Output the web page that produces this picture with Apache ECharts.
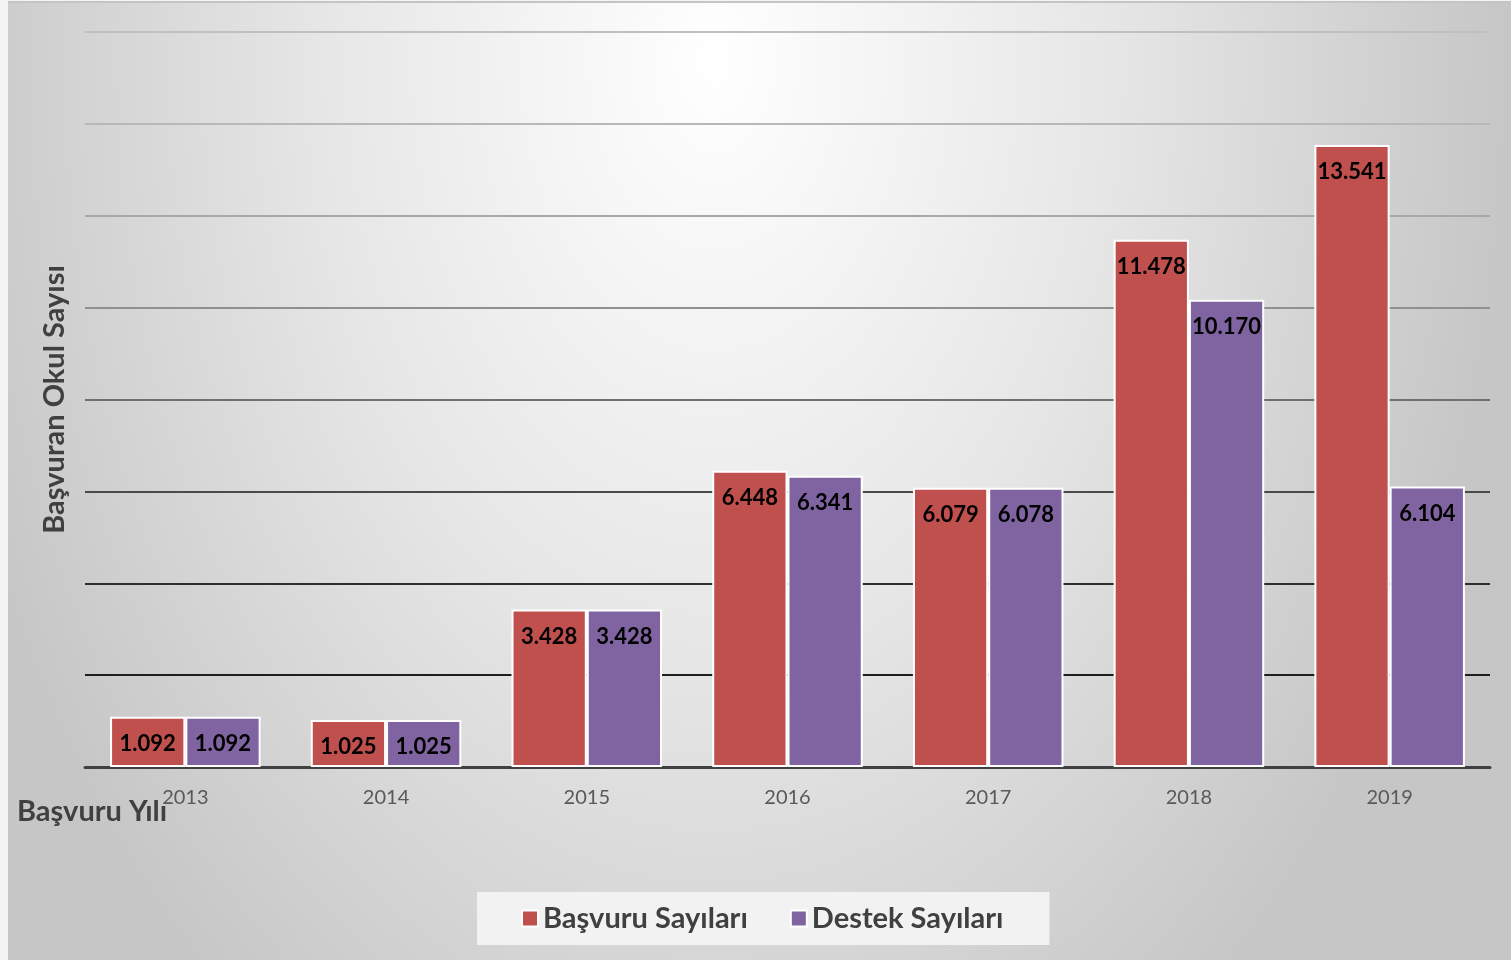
<!DOCTYPE html>
<html>
<head>
<meta charset="utf-8">
<title>Başvuru ve Destek Sayıları</title>
<script src="https://cdn.jsdelivr.net/npm/echarts@6/dist/echarts.min.js"></script>
<style>
    html, body { margin: 0; padding: 0; background: #f4f4f4; }
    #main { width: 1511px; height: 960px; }
</style>
</head>
<body>
<div id="main"></div>
<script>
    // veriler
    var years = ['2013', '2014', '2015', '2016', '2017', '2018', '2019'];
    var basvuru = [1092, 1025, 3428, 6448, 6079, 11478, 13541];
    var destek = [1092, 1025, 3428, 6341, 6078, 10170, 6104];
    var seriesNames = ['Başvuru Sayıları', 'Destek Sayıları'];

    var FONT = 'Lato, "Open Sans", sans-serif';

    // binlik ayracı nokta
    function fmt(v) {
        return String(v).replace(/\B(?=(\d{3})+(?!\d))/g, '.');
    }

    var chart = echarts.init(document.getElementById('main'));

    var labelOpt = {
        show: true,
        position: 'insideTop',
        distance: 16,
        color: '#000',
        fontFamily: FONT,
        fontWeight: 'bold',
        fontSize: 22,
        formatter: function (p) { return fmt(p.value); }
    };

    var option = {
        backgroundColor: 'transparent',
        textStyle: { fontFamily: FONT },
        graphic: [{
            // arka plan: üstten yayılan eliptik gradyan
            type: 'rect',
            z: -10,
            silent: true,
            x: 0,
            y: 2,
            scaleY: 1.5,
            shape: { x: 8, y: 0, width: 1503, height: 639 },
            style: {
                fill: {
                    type: 'radial', x: 0.47, y: 0.06, r: 1.25,
                    colorStops: [
                        { offset: 0, color: '#ffffff' },
                        { offset: 0.5, color: '#e6e6e6' },
                        { offset: 1, color: '#c6c6c6' }
                    ]
                }
            }
        }, {
            type: 'line',
            z: -9,
            silent: true,
            shape: { x1: 8, y1: 2, x2: 1511, y2: 2 },
            style: { stroke: '#c4c4c4', lineWidth: 2 }
        }, {
            type: 'text',
            left: 17,
            top: 797,
            style: {
                text: 'Başvuru Yılı',
                fill: '#404040',
                font: 'bold 29px ' + FONT
            }
        }],
        grid: { left: 85, right: 21, top: 32, bottom: 193 },
        legend: {
            data: seriesNames,
            left: 477,
            top: 892,
            backgroundColor: '#f2f2f2',
            padding: [12, 46, 12, 44],
            itemWidth: 16,
            itemHeight: 16,
            itemGap: 42,
            icon: 'rect',
            textStyle: { color: '#404040', fontSize: 29, fontWeight: 'bold', fontFamily: FONT }
        },
        xAxis: {
            type: 'category',
            data: years,
            axisTick: { show: false },
            axisLine: { lineStyle: { color: '#404040', width: 3 } },
            axisLabel: { color: '#595959', fontSize: 20, margin: 21, fontFamily: FONT }
        },
        yAxis: {
            type: 'value',
            min: 0,
            max: 16000,
            interval: 2000,
            name: 'Başvuran Okul Sayısı',
            nameLocation: 'middle',
            nameGap: 16,
            nameTextStyle: { color: '#404040', fontSize: 29, fontWeight: 'bold', fontFamily: FONT },
            axisLabel: { show: false },
            axisLine: { show: false },
            axisTick: { show: false },
            splitLine: {
                lineStyle: {
                    width: 2,
                    color: ['#000', '#1e1e1e', '#2e2e2e', '#4a4a4a', '#707070', '#909090', '#a8a8a8', '#b8b8b8', '#c0c0c0']
                }
            }
        },
        series: [{
            name: seriesNames[0],
            type: 'bar',
            data: basvuru,
            barGap: '0%',
            barCategoryGap: '25%',
            itemStyle: { color: '#c0504d', borderColor: '#fff', borderWidth: 2 },
            label: labelOpt
        }, {
            name: seriesNames[1],
            type: 'bar',
            data: destek,
            itemStyle: { color: '#8064a2', borderColor: '#fff', borderWidth: 2 },
            label: labelOpt
        }]
    };
    chart.setOption(option);
</script>
</body>
</html>
